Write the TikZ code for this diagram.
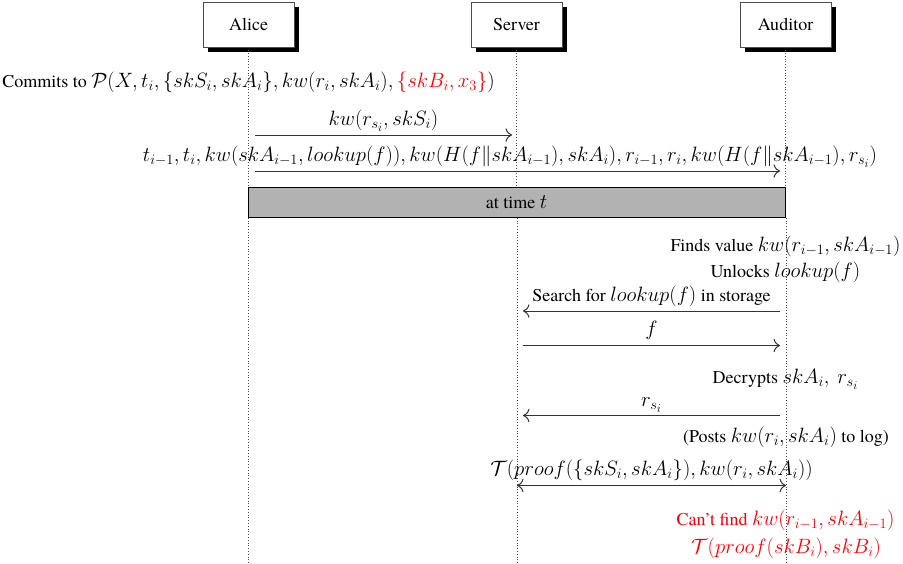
\RequirePackage{fix-cm}
\documentclass[tikz,border=0pt]{standalone}
\usepackage[no-math]{fontspec}
\setmainfont{texgyretermes}[Extension=.otf, UprightFont=*-regular, ItalicFont=*-italic, BoldFont=*-bold, BoldItalicFont=*-bolditalic, Scale=0.868]
\usetikzlibrary{shadows,arrows.meta}
\begin{document}
\begin{tikzpicture}[x=1pt,y=-1pt,
  every node/.style={font=\fontsize{20.74}{24}\selectfont, inner sep=0pt},
  actor/.style={draw=black!70, line width=0.8pt, fill=white, minimum width=91pt, minimum height=45pt,
    drop shadow={shadow xshift=5pt, shadow yshift=-4.5pt, fill=black, opacity=1}},
  lifeline/.style={dotted, black!70, line width=0.8pt},
  msg/.style={-{To[scale=1.7]}, line width=1pt, black!80},
  dmsg/.style={{To[scale=1.7]}-{To[scale=1.7]}, line width=1pt, black!80},
  note/.style={anchor=base},
  hl/.style={red}
]
\useasboundingbox (0,0) rectangle (903,563);

% participants
\node[actor] (alice) at (248.5,24.5) {Alice};
\node[actor] (server) at (516.5,24.5) {Server};
\node[actor] (auditor) at (785.5,24.5) {Auditor};

\coordinate (aliceEnd) at (248,563);
\coordinate (serverEnd) at (517,563);
\coordinate (auditorEnd) at (786,563);

% time block
\node[draw=black, line width=0.8pt, fill=gray!60, minimum width=537pt, minimum height=30pt, anchor=north west] (timebox) at (248,187) {};
\node[note] (timelbl) at (516.5,208) {at time $t$};

\draw[lifeline] (alice.south) -- (timebox.north -| alice.south);
\draw[lifeline] (server.south) -- (timebox.north -| server.south);
\draw[lifeline] (auditor.south) -- (timebox.north -| auditor.south);
\draw[lifeline] (timebox.south -| aliceEnd) -- (aliceEnd);
\draw[lifeline] (timebox.south -| serverEnd) -- (serverEnd);
\draw[lifeline] (timebox.south -| auditorEnd) -- (auditorEnd);

% commits
\node[note] (commit) at (248.5,87) {Commits to $\mathcal{P}(X, t_i, \{skS_i, skA_i\}, kw(r_i, skA_i), {\color{red}\{skB_i, x_3\}})$};

% message 1
\coordinate (m1a) at (255,135);
\coordinate (m1b) at (512,135);
\draw[msg] (m1a) -- (m1b);
\node[note] (m1l) at (383.5,125) {$kw(r_{s_i}, skS_i)$};

% message 2
\coordinate (m2a) at (255,171);
\coordinate (m2b) at (780,171);
\draw[msg] (m2a) -- (m2b);
\node[note] (m2l) at (510,161) {$t_{i-1}, t_i, kw(skA_{i-1}, lookup(f)), kw(H(f\|skA_{i-1}), skA_i), r_{i-1}, r_i, kw(H(f\|skA_{i-1}), r_{s_i})$};

% auditor notes
\node[note] (finds) at (785.5,251) {Finds value $kw(r_{i-1}, skA_{i-1})$};
\node[note] (unlocks) at (785.5,277.5) {Unlocks $lookup(f)$};

% search
\coordinate (m3a) at (780,311);
\coordinate (m3b) at (523,311);
\draw[msg] (m3a) -- (m3b);
\node[note] (m3l) at (651.5,301) {Search for $lookup(f)$ in storage};

% f
\coordinate (m4a) at (523,345.5);
\coordinate (m4b) at (780,345.5);
\draw[msg] (m4a) -- (m4b);
\node[note] (m4l) at (651.5,335) {$f$};

\node[note] (decr) at (785.5,383) {Decrypts $skA_i,\ r_{s_i}$};

% r_si
\coordinate (m5a) at (780,415.5);
\coordinate (m5b) at (523,415.5);
\draw[msg] (m5a) -- (m5b);
\node[note] (m5l) at (651.5,406.5) {$r_{s_i}$};

\node[note] (posts) at (786,442) {(Posts $kw(r_i, skA_i)$ to log)};

% double arrow
\coordinate (m6a) at (517,485.5);
\coordinate (m6b) at (786,485.5);
\draw[dmsg] (m6a) -- (m6b);
\node[note] (m6l) at (651.5,475) {$\mathcal{T}(proof(\{skS_i, skA_i\}), kw(r_i, skA_i))$};

% red notes
\node[note, hl] (cant) at (785.5,525) {Can’t find $kw(r_{i-1}, skA_{i-1})$};
\node[note, hl] (tproof) at (786,553) {$\mathcal{T}(proof(skB_i), skB_i)$};
\end{tikzpicture}
\end{document}
